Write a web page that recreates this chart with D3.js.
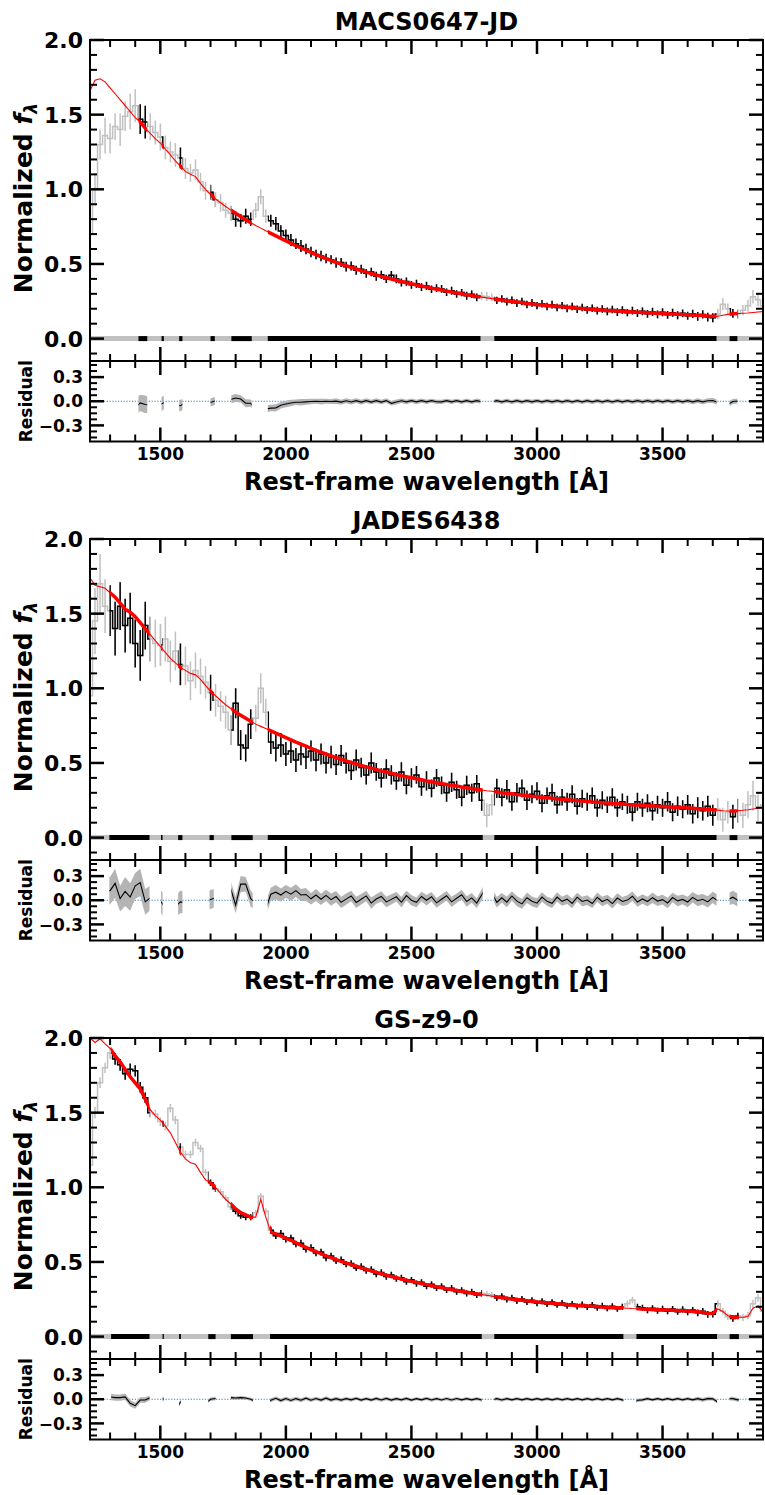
<!DOCTYPE html>
<html><head><meta charset="utf-8">
<script src="https://cdn.jsdelivr.net/npm/d3@7"></script>
<style>
body{margin:0;background:#fff;}
svg{display:block;font-family:"DejaVu Sans",sans-serif;font-weight:bold;}
</style></head><body>
<svg id="fig" width="765" height="1495"></svg>
<script>
// Rest-frame wavelength grid [Å]
const wave = [1220,1240,1260,1280,1300,1320,1340,1360,1380,1400,
1420,1440,1460,1480,1500,1520,1540,1560,1580,1600,
1620,1640,1660,1680,1700,1720,1740,1760,1780,1800,
1820,1840,1860,1880,1900,1920,1940,1960,1980,2000,
2020,2040,2060,2080,2100,2120,2140,2160,2180,2200,
2220,2240,2260,2280,2300,2320,2340,2360,2380,2400,
2420,2440,2460,2480,2500,2520,2540,2560,2580,2600,
2620,2640,2660,2680,2700,2720,2740,2760,2780,2800,
2820,2840,2860,2880,2900,2920,2940,2960,2980,3000,
3020,3040,3060,3080,3100,3120,3140,3160,3180,3200,
3220,3240,3260,3280,3300,3320,3340,3360,3380,3400,
3420,3440,3460,3480,3500,3520,3540,3560,3580,3600,
3620,3640,3660,3680,3700,3720,3740,3760,3780,3800,
3820,3840,3860,3880,3900];

const titles = ["MACS0647-JD", "JADES6438", "GS-z9-0"];

// MACS0647-JD: normalized flux, 1-sigma error, best-fit model
const fluxMACS = [0.70,1.00,1.30,1.36,1.34,1.42,1.40,1.49,1.52,1.56,
1.47,1.45,1.42,1.38,1.35,1.28,1.25,1.23,1.21,1.14,
1.11,1.13,1.05,0.99,0.98,0.93,0.91,0.86,0.84,0.80,
0.79,0.82,0.80,0.86,0.95,0.82,0.79,0.77,0.72,0.69,
0.66,0.635,0.62,0.60,0.58,0.563,0.553,0.536,0.528,0.509,
0.51,0.482,0.486,0.458,0.465,0.437,0.446,0.418,0.427,0.40,
0.425,0.40,0.376,0.382,0.36,0.367,0.345,0.353,0.331,0.338,
0.333,0.311,0.32,0.299,0.308,0.287,0.297,0.276,0.285,0.282,
0.276,0.256,0.266,0.247,0.257,0.238,0.249,0.229,0.24,0.221,
0.233,0.215,0.227,0.209,0.221,0.203,0.215,0.197,0.209,0.192,
0.204,0.187,0.199,0.182,0.195,0.178,0.191,0.174,0.187,0.170,
0.183,0.166,0.179,0.163,0.176,0.159,0.173,0.156,0.169,0.153,
0.166,0.149,0.162,0.144,0.14,0.165,0.23,0.20,0.169,0.165,
0.19,0.22,0.28,0.26,0.22];
const errMACS = [0.09,0.11,0.10,0.12,0.10,0.09,0.11,0.10,0.12,0.11,
0.10,0.11,0.09,0.08,0.09,0.08,0.07,0.08,0.07,0.07,
0.06,0.07,0.06,0.06,0.05,0.05,0.06,0.05,0.05,0.05,
0.045,0.05,0.045,0.05,0.05,0.045,0.04,0.045,0.04,0.04,
0.04,0.035,0.04,0.035,0.035,0.032,0.035,0.032,0.03,0.035,
0.03,0.032,0.03,0.03,0.03,0.03,0.028,0.03,0.028,0.028,
0.028,0.03,0.027,0.028,0.026,0.028,0.026,0.027,0.025,0.026,
0.026,0.025,0.027,0.025,0.025,0.027,0.025,0.026,0.028,0.03,
0.026,0.025,0.025,0.026,0.025,0.026,0.025,0.025,0.026,0.025,
0.025,0.025,0.026,0.025,0.025,0.026,0.025,0.025,0.025,0.026,
0.025,0.026,0.025,0.026,0.025,0.026,0.026,0.025,0.026,0.026,
0.026,0.026,0.027,0.026,0.027,0.026,0.027,0.027,0.026,0.027,
0.028,0.03,0.028,0.03,0.03,0.035,0.04,0.035,0.03,0.03,
0.035,0.04,0.045,0.045,0.04];
const modelMACS = [1.66,1.73,1.74,1.72,1.68,1.64,1.60,1.56,1.52,1.48,
1.45,1.41,1.375,1.34,1.31,1.27,1.23,1.19,1.155,1.12,
1.10,1.085,1.04,1.00,0.965,0.935,0.91,0.885,0.862,0.84,
0.818,0.796,0.776,0.757,0.74,0.722,0.705,0.688,0.671,0.655,
0.638,0.622,0.607,0.592,0.577,0.563,0.549,0.536,0.524,0.511,
0.499,0.488,0.477,0.466,0.455,0.445,0.436,0.426,0.417,0.408,
0.399,0.391,0.382,0.374,0.367,0.359,0.352,0.345,0.338,0.331,
0.325,0.318,0.312,0.306,0.300,0.294,0.289,0.283,0.278,0.273,
0.268,0.263,0.258,0.254,0.249,0.245,0.241,0.236,0.232,0.228,
0.225,0.222,0.219,0.216,0.213,0.210,0.207,0.204,0.201,0.199,
0.196,0.194,0.191,0.189,0.187,0.185,0.183,0.181,0.179,0.177,
0.175,0.173,0.171,0.170,0.168,0.166,0.165,0.163,0.161,0.160,
0.158,0.156,0.154,0.151,0.149,0.150,0.156,0.162,0.166,0.168,
0.170,0.172,0.175,0.178,0.181];
const maskMACS = [[1413,1448],[1505,1514],[1575,1588],[1700,1717],[1783,1864],[1928,2775],[2830,3715],[3767,3798]];

// JADES6438
const fluxJADES = [0.95,1.45,1.70,1.55,1.52,1.40,1.55,1.42,1.47,1.30,
1.22,1.42,1.33,1.30,1.29,1.33,1.18,1.25,1.16,1.15,
1.05,1.12,1.08,1.04,0.97,0.92,0.88,0.84,0.72,0.90,
0.62,0.60,0.76,0.80,1.00,0.84,0.64,0.60,0.62,0.56,
0.58,0.52,0.56,0.54,0.58,0.52,0.56,0.50,0.54,0.49,
0.55,0.50,0.45,0.52,0.47,0.42,0.50,0.44,0.40,0.46,
0.42,0.38,0.44,0.35,0.40,0.42,0.34,0.38,0.33,0.40,
0.35,0.30,0.37,0.32,0.27,0.35,0.30,0.36,0.25,0.15,
0.22,0.33,0.27,0.32,0.24,0.30,0.33,0.25,0.29,0.31,
0.23,0.28,0.30,0.22,0.27,0.24,0.29,0.21,0.26,0.24,
0.28,0.20,0.25,0.22,0.27,0.20,0.24,0.22,0.17,0.24,
0.20,0.23,0.18,0.22,0.20,0.24,0.17,0.21,0.19,0.22,
0.16,0.20,0.18,0.21,0.15,0.19,0.12,0.17,0.14,0.18,
0.15,0.22,0.28,0.20,0.22];
const errJADES = [0.20,0.22,0.20,0.18,0.17,0.18,0.16,0.18,0.17,0.16,
0.17,0.16,0.15,0.16,0.14,0.15,0.14,0.13,0.14,0.13,
0.13,0.12,0.12,0.11,0.12,0.11,0.10,0.11,0.10,0.10,
0.10,0.09,0.10,0.09,0.10,0.09,0.08,0.09,0.08,0.08,
0.08,0.08,0.075,0.08,0.07,0.075,0.07,0.07,0.075,0.07,
0.07,0.07,0.065,0.07,0.065,0.065,0.07,0.06,0.065,0.065,
0.065,0.06,0.065,0.06,0.065,0.06,0.06,0.065,0.06,0.06,
0.06,0.06,0.065,0.06,0.06,0.065,0.06,0.06,0.07,0.08,
0.07,0.065,0.06,0.065,0.06,0.065,0.06,0.065,0.06,0.06,
0.06,0.055,0.06,0.06,0.055,0.06,0.06,0.055,0.06,0.06,
0.055,0.06,0.06,0.055,0.06,0.06,0.055,0.06,0.06,0.06,
0.06,0.06,0.065,0.06,0.06,0.065,0.06,0.065,0.06,0.065,
0.065,0.07,0.065,0.07,0.07,0.075,0.08,0.075,0.08,0.08,
0.085,0.09,0.10,0.09,0.09];
const modelJADES = [1.74,1.69,1.68,1.67,1.64,1.61,1.57,1.53,1.51,1.48,
1.44,1.40,1.36,1.32,1.28,1.24,1.20,1.17,1.14,1.12,
1.10,1.09,1.06,1.02,0.98,0.95,0.92,0.89,0.865,0.84,
0.82,0.80,0.78,0.76,0.745,0.73,0.715,0.70,0.685,0.67,
0.655,0.64,0.626,0.612,0.598,0.585,0.572,0.56,0.548,0.536,
0.525,0.514,0.503,0.493,0.483,0.474,0.465,0.456,0.447,0.439,
0.431,0.423,0.415,0.408,0.401,0.394,0.387,0.380,0.374,0.368,
0.362,0.356,0.350,0.345,0.339,0.334,0.329,0.324,0.319,0.314,
0.310,0.305,0.301,0.297,0.293,0.289,0.285,0.281,0.277,0.274,
0.270,0.267,0.263,0.260,0.257,0.254,0.251,0.248,0.245,0.242,
0.239,0.237,0.234,0.232,0.229,0.227,0.225,0.222,0.220,0.218,
0.216,0.214,0.212,0.210,0.208,0.206,0.204,0.202,0.200,0.198,
0.196,0.194,0.192,0.189,0.186,0.183,0.180,0.178,0.178,0.180,
0.183,0.187,0.192,0.197,0.202];
const maskJADES = [[1297,1457],[1503,1509],[1571,1588],[1696,1713],[1783,1868],[1928,2784],[2830,3715],[3767,3798]];

// GS-z9-0
const fluxGS = [1.15,1.50,1.70,1.80,1.90,1.86,1.82,1.76,1.79,1.78,
1.67,1.60,1.50,1.49,1.44,1.41,1.53,1.45,1.27,1.22,
1.22,1.30,1.26,1.10,1.03,0.99,0.97,0.93,0.87,0.84,
0.81,0.80,0.80,0.83,0.94,0.84,0.712,0.676,0.69,0.652,
0.66,0.62,0.625,0.585,0.595,0.56,0.566,0.528,0.54,0.508,
0.515,0.485,0.49,0.46,0.47,0.442,0.45,0.42,0.43,0.402,
0.413,0.388,0.394,0.368,0.38,0.355,0.364,0.338,0.35,0.326,
0.337,0.312,0.324,0.30,0.311,0.289,0.30,0.278,0.29,0.285,
0.28,0.258,0.27,0.249,0.26,0.24,0.252,0.232,0.244,0.224,
0.237,0.218,0.231,0.212,0.225,0.206,0.22,0.201,0.215,0.197,
0.211,0.193,0.207,0.189,0.203,0.186,0.20,0.22,0.245,0.20,
0.193,0.176,0.19,0.173,0.187,0.17,0.185,0.167,0.182,0.164,
0.178,0.159,0.17,0.149,0.15,0.22,0.17,0.133,0.122,0.138,
0.128,0.14,0.22,0.26,0.17];
const errGS = [0.04,0.04,0.035,0.035,0.04,0.04,0.04,0.04,0.04,0.038,
0.035,0.035,0.03,0.03,0.03,0.028,0.028,0.028,0.025,0.025,
0.025,0.025,0.025,0.022,0.022,0.022,0.022,0.02,0.02,0.02,
0.02,0.02,0.02,0.02,0.02,0.02,0.024,0.022,0.024,0.022,
0.023,0.022,0.024,0.022,0.023,0.022,0.022,0.023,0.022,0.022,
0.022,0.021,0.022,0.021,0.022,0.021,0.021,0.022,0.021,0.021,
0.021,0.021,0.02,0.021,0.02,0.021,0.02,0.02,0.021,0.02,
0.02,0.02,0.021,0.02,0.02,0.021,0.02,0.02,0.022,0.022,
0.02,0.02,0.021,0.02,0.02,0.021,0.02,0.02,0.02,0.02,
0.02,0.02,0.02,0.019,0.02,0.02,0.019,0.02,0.02,0.019,
0.02,0.02,0.019,0.02,0.02,0.019,0.02,0.022,0.022,0.02,
0.02,0.02,0.02,0.02,0.02,0.02,0.02,0.02,0.021,0.021,
0.021,0.022,0.022,0.022,0.022,0.024,0.024,0.022,0.022,0.022,
0.024,0.024,0.027,0.027,0.027];
const modelGS = [2.00,1.97,1.995,1.96,1.93,1.88,1.84,1.79,1.74,1.70,
1.66,1.59,1.52,1.48,1.45,1.41,1.365,1.30,1.235,1.19,
1.165,1.155,1.10,1.05,1.03,1.00,0.96,0.92,0.89,0.855,
0.83,0.815,0.80,0.80,0.92,0.80,0.70,0.688,0.674,0.66,
0.645,0.628,0.613,0.598,0.583,0.569,0.555,0.541,0.529,0.516,
0.504,0.493,0.482,0.471,0.46,0.45,0.44,0.43,0.421,0.412,
0.403,0.395,0.386,0.378,0.37,0.363,0.356,0.348,0.341,0.334,
0.328,0.321,0.315,0.309,0.303,0.297,0.292,0.286,0.281,0.276,
0.271,0.266,0.261,0.257,0.252,0.248,0.244,0.240,0.236,0.232,
0.229,0.226,0.223,0.22,0.217,0.214,0.212,0.209,0.207,0.205,
0.203,0.201,0.199,0.197,0.195,0.194,0.192,0.19,0.188,0.187,
0.185,0.184,0.182,0.181,0.179,0.178,0.177,0.175,0.174,0.172,
0.17,0.167,0.162,0.157,0.155,0.185,0.168,0.14,0.13,0.13,
0.13,0.135,0.19,0.205,0.165];
const maskGS = [[1304,1457],[1509,1514],[1575,1582],[1691,1720],[1781,1869],[1937,2780],[2830,3344],[3396,3717],[3767,3804]];

// Axis settings
const xDomain = [1220, 3900];
const xTicks = [1500, 2000, 2500, 3000, 3500];
const yDomainMain = [-0.15, 2.0];
const yTicksMain = [0.0, 0.5, 1.0, 1.5, 2.0];
const yDomainRes = [-0.5, 0.5];
const yTicksRes = [-0.3, 0.0, 0.3];

const panels = [
  {title: titles[0], flux: fluxMACS, err: errMACS, model: modelMACS, mask: maskMACS},
  {title: titles[1], flux: fluxJADES, err: errJADES, model: modelJADES, mask: maskJADES},
  {title: titles[2], flux: fluxGS, err: errGS, model: modelGS, mask: maskGS}
];

const svg = d3.select("#fig");
const L = 90, R = 763;
const panelTops = [40, 539, 1038];
const mainH = 321, resH = 80.5;
const GRAY = "#c0c0c0";
const x = d3.scaleLinear().domain(xDomain).range([L, R]);
const defs = svg.append("defs");

const fmt1 = d => d3.format(".1f")(d).replace("-", "\u2212");

panels.forEach((p, k) => {
  const top = panelTops[k];
  const mBot = top + mainH;
  const rBot = mBot + resH;
  const yM = d3.scaleLinear().domain(yDomainMain).range([mBot, top]);
  const yR = d3.scaleLinear().domain(yDomainRes).range([rBot, mBot]);
  // residual shown as model minus data
  const pts = wave.map((w, i) => ({w, f: p.flux[i], e: p.err[i], m: p.model[i], r: p.model[i] - p.flux[i]}));

  // clip regions: whole axes, and fitted wavelength windows
  defs.append("clipPath").attr("id", `axM${k}`).append("rect")
    .attr("x", L).attr("y", top).attr("width", R - L).attr("height", mainH);
  defs.append("clipPath").attr("id", `axR${k}`).append("rect")
    .attr("x", L).attr("y", mBot).attr("width", R - L).attr("height", resH);
  const cm = defs.append("clipPath").attr("id", `mkM${k}`);
  const cr = defs.append("clipPath").attr("id", `mkR${k}`);
  p.mask.forEach(([a, b]) => {
    cm.append("rect").attr("x", x(a)).attr("width", x(b) - x(a)).attr("y", top).attr("height", mainH);
    cr.append("rect").attr("x", x(a)).attr("width", x(b) - x(a)).attr("y", mBot).attr("height", resH);
  });

  const step = d3.line().x(d => x(d.w)).y(d => yM(d.f)).curve(d3.curveStep);
  const modelLine = d3.line().x(d => x(d.w)).y(d => yM(d.m));

  const gM = svg.append("g").attr("clip-path", `url(#axM${k})`);

  // full spectrum in gray
  const gAll = gM.append("g");
  gAll.selectAll("line").data(pts).join("line")
    .attr("x1", d => x(d.w)).attr("x2", d => x(d.w))
    .attr("y1", d => yM(d.f - d.e)).attr("y2", d => yM(d.f + d.e))
    .attr("stroke", GRAY).attr("stroke-width", 1.5);
  gAll.append("path").attr("d", step(pts)).attr("fill", "none")
    .attr("stroke", GRAY).attr("stroke-width", 1.5);

  // model, thin
  gM.append("path").attr("d", modelLine(pts)).attr("fill", "none")
    .attr("stroke", "#ff0000").attr("stroke-width", 1.1);

  // fitted windows in black
  const gFit = gM.append("g").attr("clip-path", `url(#mkM${k})`);
  gFit.selectAll("line").data(pts).join("line")
    .attr("x1", d => x(d.w)).attr("x2", d => x(d.w))
    .attr("y1", d => yM(d.f - d.e)).attr("y2", d => yM(d.f + d.e))
    .attr("stroke", "#000").attr("stroke-width", 1.5);
  gFit.append("path").attr("d", step(pts)).attr("fill", "none")
    .attr("stroke", "#000").attr("stroke-width", 1.5);
  // model, thick over fitted windows
  gFit.append("path").attr("d", modelLine(pts)).attr("fill", "none")
    .attr("stroke", "#ff0000").attr("stroke-width", 3.5);

  // fitted-window indicator bar at zero
  gM.append("line").attr("x1", L).attr("x2", R).attr("y1", yM(0)).attr("y2", yM(0))
    .attr("stroke", GRAY).attr("stroke-width", 5);
  gM.selectAll("line.mk").data(p.mask).join("line").attr("class", "mk")
    .attr("x1", d => x(d[0])).attr("x2", d => x(d[1]))
    .attr("y1", yM(0)).attr("y2", yM(0))
    .attr("stroke", "#000").attr("stroke-width", 5);

  // residual panel
  const gR = svg.append("g").attr("clip-path", `url(#axR${k})`);
  gR.append("line").attr("x1", L).attr("x2", R).attr("y1", yR(0)).attr("y2", yR(0))
    .attr("stroke", "#1f77b4").attr("stroke-width", 0.9).attr("stroke-dasharray", "1.2,1.6");
  const gRf = gR.append("g").attr("clip-path", `url(#mkR${k})`);
  gRf.append("path")
    .attr("d", d3.area().x(d => x(d.w)).y0(d => yR(d.r - d.e)).y1(d => yR(d.r + d.e))(pts))
    .attr("fill", "#b4b4b4");
  gRf.append("path")
    .attr("d", d3.line().x(d => x(d.w)).y(d => yR(d.r))(pts))
    .attr("fill", "none").attr("stroke", "#000").attr("stroke-width", 1.1);

  // ticks (inward, all four sides)
  const gT = svg.append("g").attr("stroke", "#000");
  const MAJ = 14, MIN = 7;
  const xMinor = d3.range(1300, 3901, 100).filter(v => !xTicks.includes(v));
  const tick = (x1, y1, x2, y2, w) => gT.append("line")
    .attr("x1", x1).attr("y1", y1).attr("x2", x2).attr("y2", y2).attr("stroke-width", w);
  [[top, 1], [mBot, -1], [mBot, 1], [rBot, -1]].forEach(([y0, dir]) => {
    xTicks.forEach(v => tick(x(v), y0, x(v), y0 + dir * MAJ, 2.5));
    xMinor.forEach(v => tick(x(v), y0, x(v), y0 + dir * MIN, 2));
  });
  const yMinorMain = d3.range(-1, 21).map(i => i / 10).filter(v => !yTicksMain.includes(v));
  const yMinorRes = d3.range(-6, 7).map(i => i * 0.075).filter(v => Math.abs(v) > 1e-9 && Math.abs(Math.abs(v) - 0.3) > 1e-9);
  [[L, 1], [R, -1]].forEach(([x0, dir]) => {
    yTicksMain.forEach(v => tick(x0, yM(v), x0 + dir * MAJ, yM(v), 2.5));
    yMinorMain.forEach(v => tick(x0, yM(v), x0 + dir * MIN, yM(v), 2));
    yTicksRes.forEach(v => tick(x0, yR(v), x0 + dir * MAJ, yR(v), 2.5));
    yMinorRes.forEach(v => tick(x0, yR(v), x0 + dir * MIN, yR(v), 2));
  });

  // frames
  svg.append("rect").attr("x", L).attr("y", top).attr("width", R - L).attr("height", mainH)
    .attr("fill", "none").attr("stroke", "#000").attr("stroke-width", 2);
  svg.append("rect").attr("x", L).attr("y", mBot).attr("width", R - L).attr("height", resH)
    .attr("fill", "none").attr("stroke", "#000").attr("stroke-width", 2);

  // tick labels
  svg.append("g").selectAll("text").data(yTicksMain).join("text")
    .attr("x", 83).attr("y", d => yM(d)).attr("dy", "0.36em")
    .attr("text-anchor", "end").attr("font-size", 22).text(fmt1);
  svg.append("g").selectAll("text").data(yTicksRes).join("text")
    .attr("x", 83).attr("y", d => yR(d)).attr("dy", "0.36em")
    .attr("text-anchor", "end").attr("font-size", 17).text(fmt1);
  svg.append("g").selectAll("text").data(xTicks).join("text")
    .attr("x", d => x(d)).attr("y", rBot + 18)
    .attr("text-anchor", "middle").attr("font-size", 17).text(d => d);

  // titles and axis labels
  svg.append("text").attr("x", (L + R) / 2).attr("y", top - 10)
    .attr("text-anchor", "middle").attr("font-size", 24).text(p.title);
  svg.append("text").attr("x", (L + R) / 2).attr("y", rBot + 48)
    .attr("text-anchor", "middle").attr("font-size", 24).text("Rest-frame wavelength [Å]");
  const yl = svg.append("text").attr("transform", `translate(32,${top + 158}) rotate(-90)`)
    .attr("text-anchor", "middle").attr("font-size", 25);
  yl.append("tspan").text("Normalized ");
  yl.append("tspan").attr("font-style", "italic").text("f");
  yl.append("tspan").attr("font-size", 17).attr("dy", 5).attr("font-style", "italic").text("λ");
  svg.append("text").attr("transform", `translate(32,${(mBot + rBot) / 2}) rotate(-90)`)
    .attr("text-anchor", "middle").attr("font-size", 17).text("Residual");
});
</script>
</body></html>
